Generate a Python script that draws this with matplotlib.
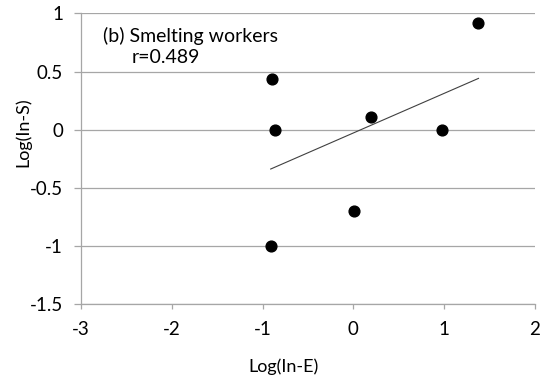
import numpy as np
import matplotlib
matplotlib.use("Agg")
import matplotlib.pyplot as plt

plt.rcParams['font.family'] = ['Lato', 'DejaVu Sans']

# data
log_in_e = [-0.90, -0.86, -0.91, 0.01, 0.19, 0.98, 1.38]
log_in_s = [0.44, 0.00, -1.00, -0.70, 0.11, 0.00, 0.92]
panel_title = "(b) Smelting workers"
r_text = "r=0.489"
x_ticks = [-3, -2, -1, 0, 1, 2]
y_ticks = [-1.5, -1, -0.5, 0, 0.5, 1]

x = np.array(log_in_e)
y = np.array(log_in_s)

fig = plt.figure(figsize=(5.44, 3.82), dpi=100)
ax = fig.add_axes([0.149, 0.203, 0.834, 0.762])

grey = '#a6a6a6'
for v in y_ticks:
    ax.axhline(v, color=grey, lw=0.9, zorder=1)

ax.scatter(x, y, s=60, color='black', zorder=3)

# linear trend line
k, b = np.polyfit(x, y, 1)
xs = np.array([x.min(), x.max()])
ax.plot(xs, k * xs + b, color='#404040', lw=0.8, zorder=2)

ax.set_xlim(-3, 2)
ax.set_ylim(-1.5, 1)
ax.set_xticks(x_ticks)
ax.set_xticklabels([str(t) for t in x_ticks])
ax.set_yticks(y_ticks)
ax.set_yticklabels(['-1.5', '-1', '-0.5', '0', '0.5', '1'])

for s in ['top', 'right']:
    ax.spines[s].set_visible(False)
for s in ['left', 'bottom']:
    ax.spines[s].set_color(grey)
    ax.spines[s].set_linewidth(0.9)
ax.tick_params(axis='both', colors=grey, width=0.9, labelsize=13.5,
               labelcolor='black')
ax.tick_params(axis='x', length=3.6, pad=8)
ax.tick_params(axis='y', length=5, pad=8)

ax.set_xlabel("Log(In-E)", fontsize=13)
ax.set_ylabel("Log(In-S)", fontsize=13)
ax.xaxis.set_label_coords(0.447, -0.185)
ax.yaxis.set_label_coords(-0.11, 0.592)

ax.text(-2.76, 0.81, panel_title, fontsize=14, va='center')
ax.text(-2.44, 0.625, r_text, fontsize=14, va='center')

fig.savefig("out.png", dpi=100)
